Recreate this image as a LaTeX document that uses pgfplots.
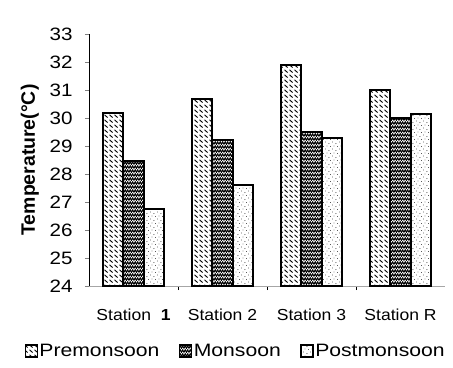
\documentclass[border=0pt]{standalone}
\usepackage{pgfplots}
\pgfplotsset{compat=1.18}
\usepackage{fontspec}
\setmainfont{Liberation Sans}
\usetikzlibrary{patterns.meta}
\tikzdeclarepattern{
  name=prehatch,
  bounding box={(0,0) and (5pt,5pt)},
  tile size={(5pt,5pt)},
  code={\draw[line width=0.9pt] (0.6pt,4.2pt) -- (3.6pt,1.4pt);}
}
\tikzdeclarepattern{
  name=zigzag,
  bounding box={(0,0) and (5pt,4pt)},
  tile size={(5pt,4pt)},
  code={\draw[line width=1.0pt] (0,0.6pt) -- (1.25pt,3.2pt) -- (2.5pt,0.6pt) -- (3.75pt,3.2pt) -- (5pt,0.6pt);}
}
\tikzdeclarepattern{
  name=sparsedots,
  bounding box={(0,0) and (7pt,7pt)},
  tile size={(7pt,7pt)},
  code={\fill (1pt,1.5pt) circle (0.5pt); \fill (4.5pt,3pt) circle (0.45pt); \fill (2.5pt,5.5pt) circle (0.45pt); \fill (6pt,6pt) circle (0.4pt);}
}
\pgfplotstableread{
x pre mon post
0 30.18 28.46 26.75
1 30.68 29.21 27.60
2 31.90 29.50 29.30
3 31.00 30.00 30.15
}\datatable
\newcommand{\hs}[2]{\scalebox{#1}[1]{#2}}
\begin{document}
\begin{tikzpicture}
\useasboundingbox (-89bp,-82bp) rectangle (364bp,286bp);
\begin{axis}[
  at={(0,0)}, anchor=south west,
  scale only axis,
  width=356bp, height=252bp,
  ybar=0pt, bar width=20.5bp,
  xmin=-0.5, xmax=3.5,
  ymin=24, ymax=33,
  ytick={24,...,33},
  yticklabels={\hs{1.15}{24},\hs{1.15}{25},\hs{1.15}{26},\hs{1.15}{27},\hs{1.15}{28},\hs{1.15}{29},\hs{1.15}{30},\hs{1.15}{31},\hs{1.15}{32},\hs{1.15}{33}},
  xtick={0,1,2,3},
  xticklabels={\hs{1.1}{Station\ \ \textbf{1}}, \hs{1.1}{Station 2}, \hs{1.1}{Station 3}, \hs{1.1}{Station R}},
  minor xtick={0.5,1.5,2.5},
  axis y line*=left,
  axis x line*=bottom,
  x axis line style={draw=black!35, line width=0.5pt},
  y axis line style={line width=0.8pt},
  tick align=outside,
  major tick length=4bp,
  minor tick length=4bp,
  x tick style={draw=none},
  minor x tick style={draw=black, line width=0.7pt},
  y tick style={line width=0.7pt},
  xticklabel style={font=\fontsize{16}{18}\selectfont, yshift=-15bp},
  yticklabel style={font=\fontsize{18}{20}\selectfont, xshift=-9bp},
  ylabel={Temperature(°C)},
  ylabel style={font=\bfseries\fontsize{19.5}{21}\selectfont, at={(axis description cs:-0.166,0.5)}, anchor=center},
  legend columns=3,
  legend style={draw=none, at={(axis description cs:-0.19,-0.258)}, anchor=west,
    font=\fontsize{18}{20}\selectfont,
    nodes={inner xsep=1.5bp},
    /tikz/every even column/.append style={column sep=18bp}},
  legend image code/.code={\draw[#1, line width=1.4pt] (0bp,-6bp) rectangle (12bp,6bp);},
]
\addplot[draw=black, line width=1.8pt, pattern={prehatch}] table[x=x, y=pre] {\datatable};
\addplot[draw=black, line width=1.8pt, pattern={zigzag}] table[x=x, y=mon] {\datatable};
\addplot[draw=black, line width=1.8pt, pattern={sparsedots}] table[x=x, y=post] {\datatable};
\legend{\hs{1.18}{Premonsoon}, \hs{1.18}{Monsoon}, \hs{1.18}{Postmonsoon}}
\end{axis}
\end{tikzpicture}
\end{document}
